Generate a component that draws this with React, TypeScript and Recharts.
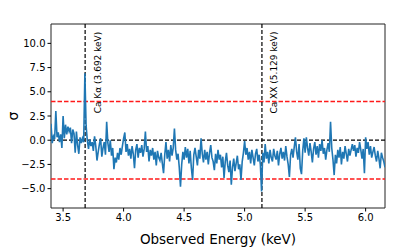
import React from "react";
import {
  LineChart,
  Line,
  XAxis,
  YAxis,
  ReferenceLine,
  ReferenceArea,
  Label,
} from "recharts";

const energy = [
  3.40, 3.41, 3.42, 3.43, 3.44, 3.45, 3.46, 3.47, 3.48, 3.49,
  3.50, 3.51, 3.52, 3.53, 3.54, 3.55, 3.56, 3.57, 3.58, 3.59,
  3.60, 3.61, 3.62, 3.63, 3.64, 3.65, 3.66, 3.67, 3.68, 3.69,
  3.70, 3.71, 3.72, 3.73, 3.74, 3.75, 3.76, 3.77, 3.78, 3.79,
  3.80, 3.81, 3.82, 3.83, 3.84, 3.85, 3.86, 3.87, 3.88, 3.89,
  3.90, 3.91, 3.92, 3.93, 3.94, 3.95, 3.96, 3.97, 3.98, 3.99,
  4.00, 4.01, 4.02, 4.03, 4.04, 4.05, 4.06, 4.07, 4.08, 4.09,
  4.10, 4.11, 4.12, 4.13, 4.14, 4.15, 4.16, 4.17, 4.18, 4.19,
  4.20, 4.21, 4.22, 4.23, 4.24, 4.25, 4.26, 4.27, 4.28, 4.29,
  4.30, 4.31, 4.32, 4.33, 4.34, 4.35, 4.36, 4.37, 4.38, 4.39,
  4.40, 4.41, 4.42, 4.43, 4.44, 4.45, 4.46, 4.47, 4.48, 4.49,
  4.50, 4.51, 4.52, 4.53, 4.54, 4.55, 4.56, 4.57, 4.58, 4.59,
  4.60, 4.61, 4.62, 4.63, 4.64, 4.65, 4.66, 4.67, 4.68, 4.69,
  4.70, 4.71, 4.72, 4.73, 4.74, 4.75, 4.76, 4.77, 4.78, 4.79,
  4.80, 4.81, 4.82, 4.83, 4.84, 4.85, 4.86, 4.87, 4.88, 4.89,
  4.90, 4.91, 4.92, 4.93, 4.94, 4.95, 4.96, 4.97, 4.98, 4.99,
  5.00, 5.01, 5.02, 5.03, 5.04, 5.05, 5.06, 5.07, 5.08, 5.09,
  5.10, 5.11, 5.12, 5.13, 5.14, 5.15, 5.16, 5.17, 5.18, 5.19,
  5.20, 5.21, 5.22, 5.23, 5.24, 5.25, 5.26, 5.27, 5.28, 5.29,
  5.30, 5.31, 5.32, 5.33, 5.34, 5.35, 5.36, 5.37, 5.38, 5.39,
  5.40, 5.41, 5.42, 5.43, 5.44, 5.45, 5.46, 5.47, 5.48, 5.49,
  5.50, 5.51, 5.52, 5.53, 5.54, 5.55, 5.56, 5.57, 5.58, 5.59,
  5.60, 5.61, 5.62, 5.63, 5.64, 5.65, 5.66, 5.67, 5.68, 5.69,
  5.70, 5.71, 5.72, 5.73, 5.74, 5.75, 5.76, 5.77, 5.78, 5.79,
  5.80, 5.81, 5.82, 5.83, 5.84, 5.85, 5.86, 5.87, 5.88, 5.89,
  5.90, 5.91, 5.92, 5.93, 5.94, 5.95, 5.96, 5.97, 5.98, 5.99,
  6.00, 6.01, 6.02, 6.03, 6.04, 6.05, 6.06, 6.07, 6.08, 6.09,
  6.10, 6.11, 6.12, 6.13, 6.14, 6.15, 6.16,
];

const sigma = [
  1.7, -0.3, 0.4, 0.1, 3.0, 0.3, 0.8, -0.2, 0.6, -0.8,
  2.5, 0.2, 1.6, 0.6, 1.4, 0.9, 1.3, -0.3, 1.1, 0.7,
  -1.3, 0.9, -0.5, -1.4, 0.3, -0.3, 0.2, -0.2, 6.9, 1.5,
  0.0, -0.9, 0.1, -0.6, -0.2, -1.1, 0.4, -0.6, -2.1, -1.2,
  -0.4, 0.2, -1.7, -0.8, -0.2, -1.5, 1.9, -0.3, -1.2, 0.0,
  -1.6, -0.8, -3.0, -1.8, -2.3, -1.3, -2.0, -0.8, -1.5, -0.6,
  0.2, 0.8, -1.2, -0.4, -1.6, -0.9, -1.9, -0.6, -1.4, -2.9,
  -1.0, -0.4, -1.8, -0.8, -1.3, -0.5, -1.7, -0.9, 0.9, -1.2,
  -0.6, -2.2, -1.0, -1.6, -0.8, -2.0, -1.2, -2.6, -1.1, -1.8,
  -2.1, -1.3, -2.4, -3.4, -1.5, -0.2, -1.9, -1.0, -2.2, -0.5,
  -1.6, -0.8, 1.2, -1.0, -2.0, -1.4, -2.8, -4.8, -2.5, -1.2,
  -2.0, -0.7, -1.8, -0.9, -2.4, -1.1, -2.9, -4.1, -1.5, -0.8,
  -1.7, -2.6, -1.0, -1.9, 0.2, -1.4, -2.3, -1.0, -2.0, -1.2,
  -2.5, -1.3, -0.5, -1.8, -2.2, -3.1, -1.4, -2.4, -1.0, -2.0,
  -1.5, -2.8, -1.7, -3.9, -2.2, -1.3, -2.6, -3.3, -2.1, -4.6,
  -2.8, -1.9, -3.2, -2.4, -1.6, -3.0, -2.5, -4.1, -2.2, -1.3,
  -0.1, -1.5, -0.8, -2.0, -1.2, -2.4, -1.0, -1.8, -2.6, -1.4,
  -0.9, -2.2, -1.5, -2.5, -5.3, -1.3, -2.3, -0.4, -1.9, -1.2,
  -2.4, -1.0, -1.8, -2.2, -0.9, -1.6, -2.0, -1.1, -2.6, -1.4,
  -0.8, -1.9, -1.2, -2.1, -0.6, -1.7, -2.5, -3.8, -1.5, -0.9,
  -1.8, -0.7, 0.3, -1.2, -2.0, -0.4, -2.9, -3.5, -1.1, 0.2,
  -1.3, 0.3, -0.8, -1.6, -0.3, -1.2, -2.3, -0.9, -0.2, -1.5,
  -0.6, -1.8, -0.4, -1.1, 0.0, -1.4, -0.8, -2.0, -1.0, -0.3,
  -1.2, 1.9, -0.8, -2.0, -3.6, -1.5, -2.4, -1.0, -1.8, -0.7,
  -2.5, -1.2, -1.9, -0.6, -1.4, -2.2, -0.9, -1.6, -1.0, -0.4,
  -1.1, -0.5, -1.7, -0.8, -1.3, -0.2, -1.0, -1.9, -0.9, -3.4,
  0.3, -0.9, -0.2, -1.5, -0.6, -1.8, -1.2, -0.7, -1.6, -2.2,
  -1.1, -1.9, -2.9, -1.3, -1.8, -2.2, -2.8,
];

const xTicks = [3.5, 4.0, 4.5, 5.0, 5.5, 6.0];
const yTicks = [-5, -2.5, 0, 2.5, 5, 7.5, 10];
const xDomain = [3.4, 6.16];
const yDomain = [-7, 12];
const kaEnergy = 3.682;
const kaLabel = "Ca K\u03b1 (3.692 keV)";
const xxEnergy = 5.143;
const xxLabel = "Ca XX (5.129 keV)";
const upperThreshold = 4;
const lowerThreshold = -4;

const data = energy.map((e, i) => ({ energy: e, sigma: sigma[i] }));

const FONT = "DejaVu Sans, sans-serif";

const fmt = (v: number) => {
  const s = v.toFixed(1);
  return v < 0 ? "\u2212" + s.slice(1) : s;
};

const makeLineLabel = (text: string) => (props: any) => {
  const vb = props.viewBox || {};
  const cx = vb.x + 12.5;
  const cy = 72.5;
  return (
    <text
      x={cx}
      y={cy}
      textAnchor="middle"
      dominantBaseline="central"
      fontSize={9}
      fontFamily={FONT}
      fill="#000"
      transform={`rotate(-90 ${cx} ${cy})`}
    >
      {text}
    </text>
  );
};

export default function App() {
  return (
    <div style={{ position: "absolute", left: 0, top: 0, background: "#fff" }}>
      <LineChart
        width={397}
        height={248}
        data={data}
        margin={{ top: 24, right: 12, left: 0, bottom: 0 }}
        style={{ fontFamily: FONT }}
      >
        <XAxis
          dataKey="energy"
          type="number"
          domain={xDomain}
          ticks={xTicks}
          tickFormatter={fmt}
          allowDataOverflow
          height={40}
          axisLine={false}
          tickLine={{ stroke: "#000" }}
          tickSize={3.5}
          tickMargin={2}
          tick={{ fill: "#000", fontSize: 10, fontFamily: FONT }}
        >
          <Label
            content={(props: any) => {
              const vb = props.viewBox || {};
              return (
                <text
                  x={vb.x + vb.width / 2}
                  y={vb.y + 36}
                  textAnchor="middle"
                  fontSize={13.5}
                  fontFamily={FONT}
                  fill="#000"
                >
                  Observed Energy (keV)
                </text>
              );
            }}
          />
        </XAxis>
        <YAxis
          type="number"
          domain={yDomain}
          ticks={yTicks}
          tickFormatter={fmt}
          allowDataOverflow
          width={51}
          axisLine={false}
          tickLine={{ stroke: "#000" }}
          tickSize={3.5}
          tickMargin={2}
          tick={{ fill: "#000", fontSize: 10, fontFamily: FONT }}
        >
          <Label
            content={(props: any) => {
              const vb = props.viewBox || {};
              const cx = 13;
              const cy = vb.y + vb.height / 2;
              return (
                <text
                  x={cx}
                  y={cy}
                  textAnchor="middle"
                  dominantBaseline="central"
                  fontSize={14}
                  fontFamily={FONT}
                  fill="#000"
                  transform={`rotate(-90 ${cx} ${cy})`}
                >
                  σ
                </text>
              );
            }}
          />
        </YAxis>
        <ReferenceLine
          y={0}
          stroke="#000000"
          strokeWidth={1.3}
          strokeDasharray="4 2"
        />
        <ReferenceLine
          y={upperThreshold}
          stroke="#ff1a1a"
          strokeWidth={1.5}
          strokeDasharray="4.5 2"
        />
        <ReferenceLine
          y={lowerThreshold}
          stroke="#ff1a1a"
          strokeWidth={1.5}
          strokeDasharray="4.5 2"
        />
        <ReferenceLine
          x={kaEnergy}
          stroke="#000000"
          strokeWidth={1.2}
          strokeDasharray="4 2"
          label={makeLineLabel(kaLabel)}
        />
        <ReferenceLine
          x={xxEnergy}
          stroke="#000000"
          strokeWidth={1.2}
          strokeDasharray="4 2"
          label={makeLineLabel(xxLabel)}
        />
        <Line
          type="linear"
          dataKey="sigma"
          stroke="#1f77b4"
          strokeWidth={1.6}
          dot={false}
          isAnimationActive={false}
        />
        <ReferenceArea
          x1={xDomain[0]}
          x2={xDomain[1]}
          y1={yDomain[0]}
          y2={yDomain[1]}
          fill="none"
          fillOpacity={0}
          stroke="#222"
          strokeWidth={1}
        />
      </LineChart>
    </div>
  );
}
